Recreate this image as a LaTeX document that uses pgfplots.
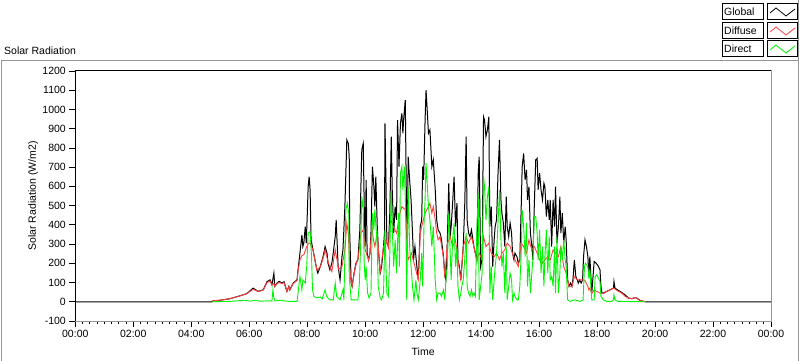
\documentclass[border=0pt]{standalone}
\usepackage{pgfplots}
\pgfplotsset{compat=1.18}
\usepackage{fontspec}
\setmainfont{Liberation Sans}
\definecolor{diffc}{RGB}{255,64,64}
\definecolor{dirc}{RGB}{0,245,0}
\definecolor{framec}{RGB}{150,150,150}
\newcommand{\lbl}{\fontsize{10.5bp}{12bp}\selectfont}
\begin{document}
\begin{tikzpicture}
\useasboundingbox (0bp,0bp) rectangle (800bp,361bp);
% outer frame
\draw[framec, line width=1bp] (1bp,0.5bp) -- (1bp,300bp) -- (798bp,300bp) -- (798bp,0.5bp);
\draw[framec, line width=1bp] (798bp,300bp) -- (798bp,361bp);
\node[anchor=base west, font=\lbl, inner sep=0pt] at (4bp,306bp) {Solar Radiation};
% legend
\foreach \yy/\nm/\cc in {341/Global/black, 322/Diffuse/diffc, 304/Direct/dirc}{
  \draw[black, line width=1bp] (722bp,\yy bp) rectangle (763bp,\yy bp+16bp);
  \node[anchor=west, font=\lbl, inner sep=0pt] at (724bp,\yy bp+8bp) {\nm};
  \draw[black, line width=1bp] (767bp,\yy bp) rectangle (797bp,\yy bp+16bp);
  \draw[\cc, line width=0.8bp] (770bp,\yy bp+7bp) -- (776bp,\yy bp+12bp) -- (786bp,\yy bp+4bp) -- (795bp,\yy bp+11bp);
}
\begin{axis}[
  at={(75.3bp,40bp)}, anchor=south west,
  scale only axis, width=695.7bp, height=250bp,
  xmin=0, xmax=1440, ymin=-100, ymax=1200,
  xtick={0,120,...,1440},
  xticklabels={00:00,02:00,04:00,06:00,08:00,10:00,12:00,14:00,16:00,18:00,20:00,22:00,00:00},
  minor x tick num=7,
  ytick={-100,0,...,1200},
  tick align=outside,
  tick pos=left,
  major tick length=6bp, minor tick length=3bp,
  every tick/.style={black, line width=0.8bp},
  axis line style={draw=framec, line width=1bp},
  ticklabel style={font=\lbl},
  /pgf/number format/assume math mode=true,
  /pgf/number format/1000 sep={},
  xlabel={Time}, ylabel={Solar Radiation (W/m2)},
  label style={font=\lbl},
  xlabel style={at={(axis description cs:0.5,-0.124)}, anchor=center},
  ylabel style={at={(axis description cs:-0.0605,0.5)}, anchor=center},
  clip=false,
]
\draw[black, line width=1bp] (rel axis cs:0,0) -- (rel axis cs:0,1) -- (rel axis cs:1,1);
\addplot[black, line width=1bp] table {
x y
0 0
283 0
285 5
300 8
320 16
337 28
355 42
368 71
378 54
389 62
397 105
403 114
407 88
411 149
413 80
418 98
422 106
428 98
432 104
438 54
442 80
444 62
451 97
459 114
461 166
465 253
469 348
471 287
473 305
476 391
478 305
480 443
482 599
484 651
486 582
488 322
492 270
496 218
500 166
502 149
507 183
511 218
513 235
517 287
521 253
523 201
527 166
531 201
533 235
538 339
540 426
542 305
544 183
548 114
552 235
554 270
558 495
562 842
565 824
567 755
568 357
571 97
573 80
577 149
581 201
585 218
589 374
593 790
596 824
598 500
600 287
602 634
604 253
607 218
610 253
612 357
615 703
618 599
620 495
622 651
625 391
627 287
631 149
634 183
638 287
640 357
641 928
643 634
645 305
648 287
651 461
654 859
656 582
659 357
662 495
665 426
667 945
670 703
673 928
676 980
678 876
680 962
683 1049
685 599
687 253
689 755
692 634
695 530
698 357
700 218
703 287
707 183
710 114
714 391
717 426
719 703
721 634
724 945
726 1101
728 1014
731 876
734 894
738 703
741 738
745 582
748 426
751 374
755 357
758 322
762 235
765 131
767 114
770 305
773 616
776 339
778 391
781 513
784 651
787 391
790 513
792 218
795 183
798 114
800 183
803 287
806 495
809 859
811 426
814 357
817 339
820 374
823 322
825 287
828 253
831 218
834 669
836 755
839 183
842 218
845 962
847 945
850 859
853 894
856 962
858 391
861 495
864 183
867 322
869 391
872 426
875 669
878 842
881 530
883 461
886 409
889 287
892 547
894 391
897 339
900 409
903 357
905 253
908 218
910 253
914 235
917 201
920 218
923 495
925 703
928 772
931 634
934 686
936 530
939 599
942 357
945 287
947 218
950 495
953 738
956 746
958 582
961 669
964 582
967 530
970 616
972 599
975 443
978 530
981 426
983 530
986 287
989 530
992 391
994 599
997 305
1000 391
1003 547
1005 357
1008 461
1011 305
1014 391
1016 322
1019 114
1022 80
1025 97
1028 80
1030 114
1033 218
1036 131
1039 114
1041 97
1044 114
1047 97
1050 114
1052 235
1055 322
1058 287
1061 235
1063 131
1065 235
1069 45
1074 209
1078 201
1083 183
1086 166
1088 80
1090 45
1093 45
1100 54
1107 62
1114 71
1115 105
1117 71
1124 59
1131 48
1138 36
1145 19
1152 16
1159 22
1162 19
1169 7
1176 2
1181 0
1440 0
};
\addplot[diffc, line width=0.9bp] table {
x y
283 0
285 5
300 8
320 16
337 28
355 42
368 65
378 54
389 60
397 100
403 108
407 88
411 95
413 80
418 95
422 100
428 95
432 100
438 54
442 78
444 60
451 95
459 110
461 160
465 218
469 240
473 245
479 287
483 305
486 305
489 287
492 270
500 166
507 180
514 235
517 270
524 201
531 157
538 270
545 170
552 183
558 270
562 409
565 357
569 131
573 80
579 175
586 235
591 357
596 374
600 270
607 218
610 253
614 391
617 322
620 287
625 357
631 149
638 287
643 322
648 280
651 400
655 420
658 391
665 357
672 461
676 495
683 478
686 374
689 218
696 253
703 183
710 114
714 357
717 391
724 461
731 495
734 513
738 461
741 495
745 426
748 357
751 322
755 339
762 230
765 130
770 300
776 339
781 287
787 322
792 218
798 114
803 287
809 339
814 305
820 339
825 287
831 218
836 253
842 218
845 339
850 287
856 305
861 253
867 235
872 253
878 218
883 253
889 270
894 305
900 287
905 250
910 218
917 183
923 305
928 287
934 253
939 322
945 270
950 287
956 253
961 218
967 201
972 218
978 235
983 218
989 270
994 253
1000 235
1005 287
1011 183
1016 149
1022 80
1028 80
1033 131
1039 114
1045 114
1052 114
1055 110
1061 80
1063 62
1065 71
1069 42
1074 62
1079 54
1086 45
1093 42
1100 54
1107 62
1114 71
1117 66
1124 54
1131 45
1138 28
1145 19
1152 16
1159 22
1162 19
1169 7
1176 2
1181 0
};
\addplot[dirc, line width=0.9bp] table {
x y
283 0
320 2
351 8
362 3
372 8
382 3
403 5
407 5
409 62
411 20
413 5
424 8
434 4
444 2
459 2
465 131
469 62
471 114
476 97
479 183
482 357
486 365
489 235
491 62
494 28
500 20
507 25
511 15
517 62
520 28
527 10
534 10
538 97
541 28
548 10
554 62
556 10
560 478
563 513
566 461
567 131
571 10
585 10
588 97
591 322
593 547
596 478
598 200
600 114
602 183
605 45
608 20
612 45
615 461
618 374
620 480
625 287
627 80
631 20
634 10
638 45
641 374
643 183
645 45
648 28
651 253
654 582
656 391
659 183
662 322
665 149
669 461
671 183
673 669
676 703
678 582
681 703
684 461
686 10
689 599
692 287
695 183
698 80
701 10
705 114
707 45
710 10
714 114
717 253
719 80
722 426
724 530
726 721
728 634
731 495
734 426
738 287
741 391
745 114
748 10
751 45
755 45
758 28
762 62
765 10
767 114
770 183
773 461
776 253
778 114
781 322
784 409
787 183
790 287
792 80
795 10
798 45
800 80
803 114
806 218
809 357
811 80
814 45
817 28
820 62
823 28
825 45
828 28
831 357
834 565
836 10
839 80
842 149
845 651
847 599
850 426
853 547
856 599
858 45
861 183
864 10
867 114
869 183
872 253
875 409
878 582
881 322
883 183
886 253
889 45
892 287
894 10
897 80
900 149
903 114
905 10
908 45
910 28
914 10
917 10
920 80
923 253
925 478
928 391
931 235
934 409
936 80
939 218
942 45
945 149
947 218
950 443
953 443
956 357
958 218
961 374
964 149
967 287
970 80
972 235
975 374
978 149
981 339
983 114
986 131
989 80
992 287
994 45
997 339
1000 45
1003 149
1005 287
1008 218
1011 322
1014 218
1016 183
1019 10
1024 2
1034 10
1045 2
1051 10
1054 183
1056 201
1061 183
1063 120
1065 166
1069 10
1074 10
1076 131
1079 140
1083 123
1086 105
1088 28
1093 10
1100 2
1110 2
1114 10
1115 36
1117 10
1123 2
1181 0
};
\end{axis}
\end{tikzpicture}
\end{document}
